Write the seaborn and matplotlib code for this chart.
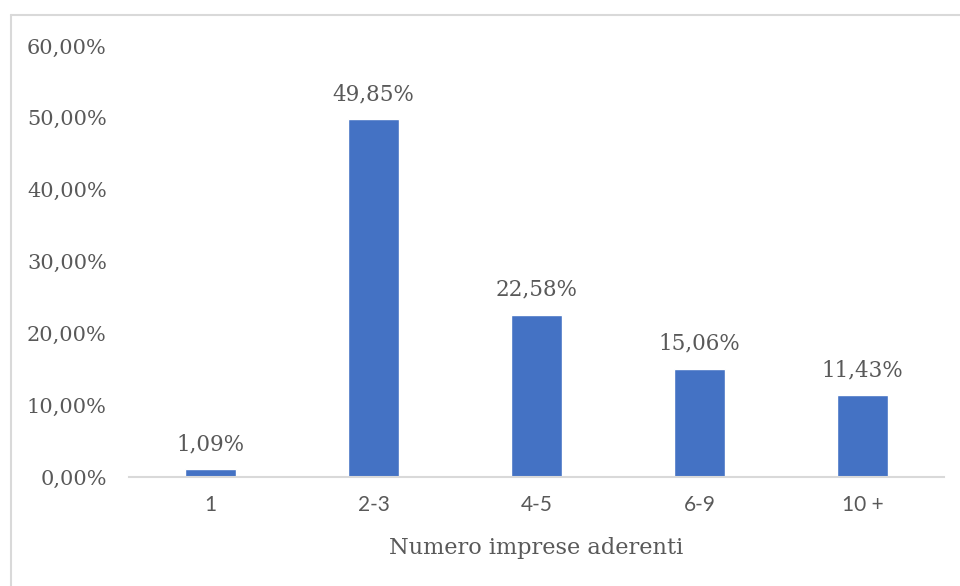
import pandas as pd
import numpy as np
import seaborn as sns
import matplotlib.pyplot as plt
from matplotlib.lines import Line2D

# dati
categorie = ['1', '2-3', '4-5', '6-9', '10 +']
percentuali = [1.09, 49.85, 22.58, 15.06, 11.43]
y_ticks = [0, 10, 20, 30, 40, 50, 60]

df = pd.DataFrame({'categoria': categorie, 'perc': percentuali})

sns.set_style('white')
testo = '#595959'

fig = plt.figure(figsize=(9.6, 5.86), dpi=100)
ax = fig.add_axes([129/960, 1 - 477/586, 815/960, 431/586])

sns.barplot(data=df, x='categoria', y='perc', color='#4472C4', width=0.31,
            saturation=1, ax=ax)

ax.set_xlim(-0.5, 4.5)
ax.set_ylim(0, 60)
ax.set_yticks(y_ticks)
ax.set_yticklabels(['{:.2f}%'.format(v).replace('.', ',') for v in y_ticks],
                   family='DejaVu Serif', fontsize=15, color=testo)
ax.set_xticks(range(len(categorie)))
ax.set_xticklabels(categorie, family='Lato', fontsize=15, color=testo)
ax.tick_params(axis='both', length=0)
ax.tick_params(axis='y', pad=16)
ax.tick_params(axis='x', pad=13)

for s in ['top', 'right', 'left']:
    ax.spines[s].set_visible(False)
ax.spines['bottom'].set_color('#d9d9d9')
ax.spines['bottom'].set_linewidth(1.5)

# etichette dati
for i, v in enumerate(percentuali):
    ax.annotate('{:.2f}%'.format(v).replace('.', ','), (i, v),
                xytext=(0, 10), textcoords='offset points', ha='center',
                va='bottom', family='DejaVu Serif', fontsize=15.5, color=testo)

ax.set_ylabel('')
ax.set_xlabel('Numero imprese aderenti', family='DejaVu Serif', fontsize=16.2,
              color=testo, labelpad=16)

# cornice del grafico (solo lati visibili)
fig.add_artist(Line2D([10.5/960, 10.5/960], [0, 1 - 15/586], color='#d9d9d9', lw=1.5))
fig.add_artist(Line2D([10.5/960, 1], [1 - 15/586, 1 - 15/586], color='#d9d9d9', lw=1.5))

fig.savefig('out.png', dpi=100)
